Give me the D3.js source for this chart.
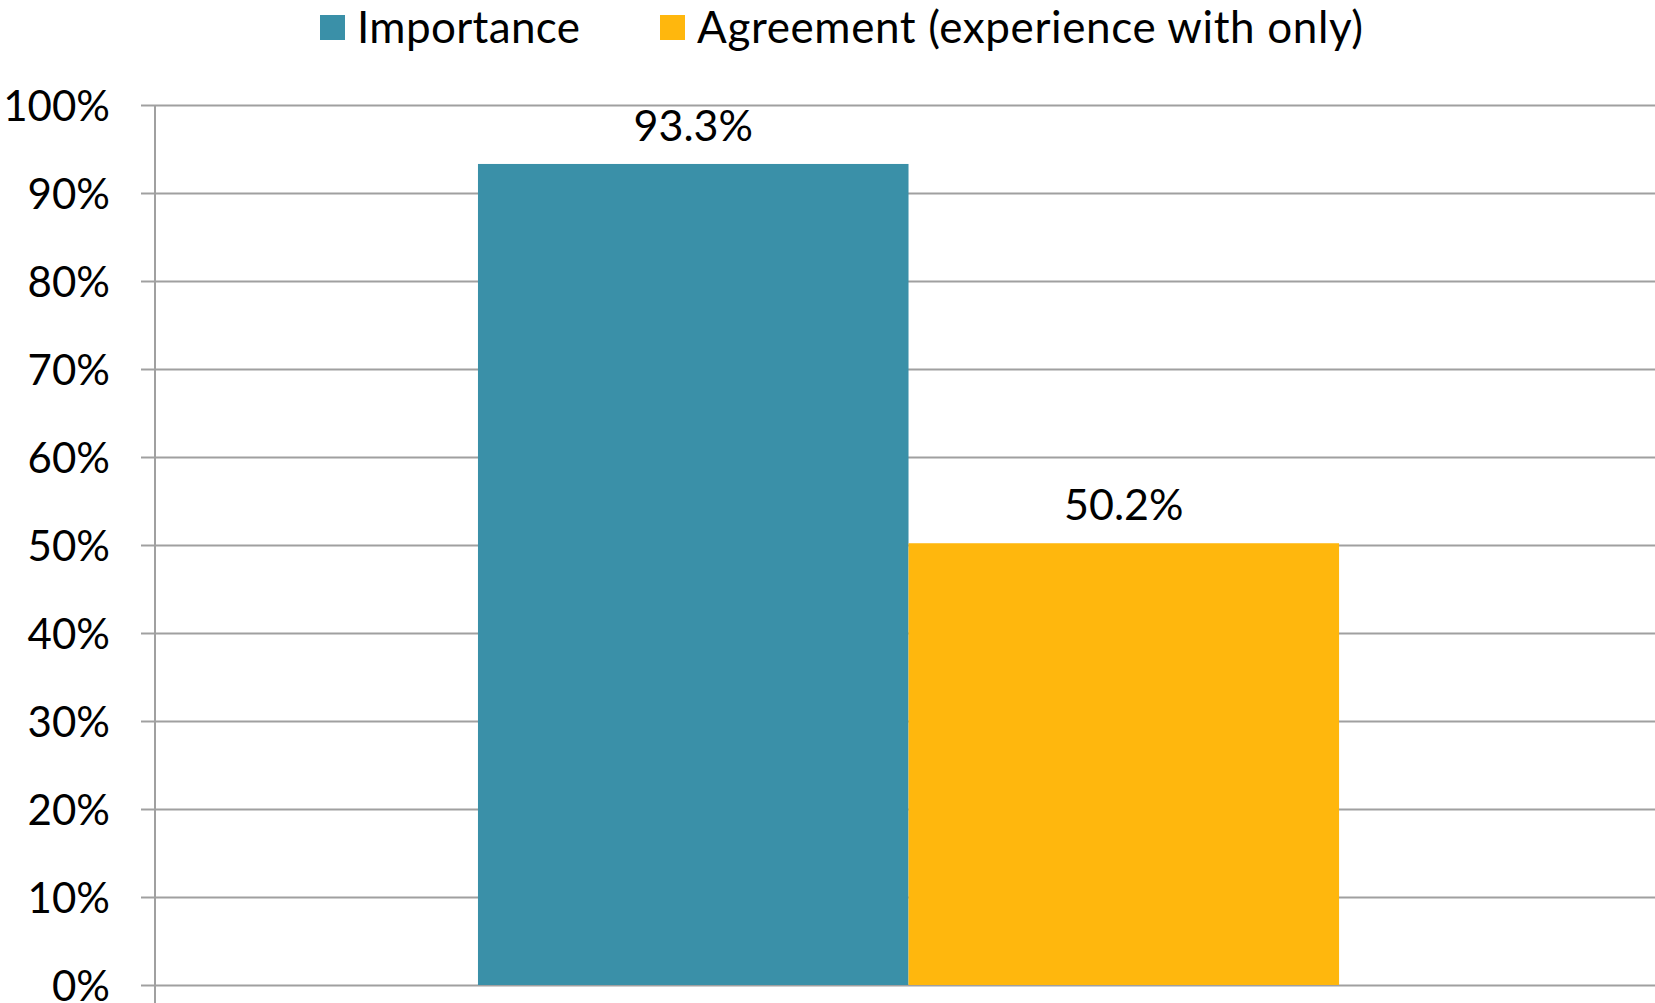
<!DOCTYPE html>
<html>
<head>
<meta charset="utf-8">
<script src="https://cdn.jsdelivr.net/npm/d3@7"></script>
<style>
  html, body { margin: 0; padding: 0; background: #fff; }
  svg { display: block; }
  text { font-family: Lato, "Open Sans", sans-serif; fill: #000; }
</style>
</head>
<body>
<svg id="chart" width="1655" height="1003"></svg>
<script>
// Survey result: share rating the item important vs. share agreeing
const categories = [""];
const seriesNames = ["Importance", "Agreement (experience with only)"];
const seriesColors = ["#3A90A8", "#FFB70D"];
const importanceValues = [0.933];
const agreementValues = [0.502];
const tickValues = [0, 0.1, 0.2, 0.3, 0.4, 0.5, 0.6, 0.7, 0.8, 0.9, 1.0];

const W = 1655, H = 1003;
const margin = { top: 105, right: 0, bottom: 18, left: 155 };
const fontSize = 43;

const svg = d3.select("#chart");

const data = categories.map((c, i) => ({
  category: c,
  values: [importanceValues[i], agreementValues[i]]
}));

const y = d3.scaleLinear().domain([0, 1]).range([H - margin.bottom, margin.top]);
const x0 = d3.scaleBand().domain(categories)
  .range([margin.left, W - margin.right])
  .paddingInner(0).paddingOuter(0.371).align(0.5055);
const x1 = d3.scaleBand().domain(d3.range(seriesNames.length))
  .range([0, x0.bandwidth()]).padding(0);

const fmt = d3.format(".0%");
const gridColor = "#a0a0a0";

// Horizontal gridlines
const grid = svg.append("g")
  .attr("transform", `translate(${margin.left},0)`)
  .call(d3.axisLeft(y).tickValues(tickValues)
    .tickSizeInner(-(W - margin.left - margin.right)).tickSizeOuter(0).tickFormat(""));
grid.select(".domain").remove();
grid.selectAll(".tick line").attr("stroke", gridColor).attr("stroke-width", 2);

// Bars
const groups = svg.append("g").selectAll("g")
  .data(data).join("g")
  .attr("transform", d => `translate(${x0(d.category)},0)`);

groups.selectAll("rect")
  .data(d => d.values.map((v, j) => ({ v, j })))
  .join("rect")
  .attr("x", d => x1(d.j))
  .attr("width", x1.bandwidth())
  .attr("y", d => y(d.v))
  .attr("height", d => y(0) - y(d.v))
  .attr("fill", d => seriesColors[d.j]);

// Value labels
groups.selectAll("text.value")
  .data(d => d.values.map((v, j) => ({ v, j })))
  .join("text")
  .attr("class", "value")
  .attr("x", d => x1(d.j) + x1.bandwidth() / 2)
  .attr("y", d => y(d.v) - 23)
  .attr("text-anchor", "middle")
  .attr("font-size", fontSize)
  .text(d => d3.format(".1%")(d.v));

// Y axis: tick marks and labels
const yAxis = svg.append("g")
  .attr("transform", `translate(${margin.left},0)`)
  .call(d3.axisLeft(y).tickValues(tickValues).tickFormat(fmt)
    .tickSizeInner(14).tickSizeOuter(0).tickPadding(31));
yAxis.select(".domain").remove();
yAxis.selectAll(".tick line").attr("stroke", gridColor).attr("stroke-width", 2);
yAxis.selectAll(".tick text")
  .attr("font-size", 42)
  .attr("font-family", "Lato, sans-serif")
  .attr("fill", "#000")
  .attr("dy", "0.36em");

// Vertical axis line running down past the baseline
svg.append("line")
  .attr("x1", margin.left).attr("x2", margin.left)
  .attr("y1", margin.top).attr("y2", H)
  .attr("stroke", gridColor).attr("stroke-width", 2);

// Legend
const legendItems = [
  { name: seriesNames[0], color: seriesColors[0], x: 320, len: 223 },
  { name: seriesNames[1], color: seriesColors[1], x: 660, len: 666 }
];
const legend = svg.append("g");
const li = legend.selectAll("g").data(legendItems).join("g")
  .attr("transform", d => `translate(${d.x},15)`);
li.append("rect").attr("width", 25).attr("height", 25).attr("fill", d => d.color);
li.append("text")
  .attr("x", 37).attr("y", 12.5).attr("dy", "0.36em")
  .attr("font-size", 44)
  .attr("textLength", d => d.len)
  .attr("lengthAdjust", "spacing")
  .text(d => d.name);
</script>
</body>
</html>
